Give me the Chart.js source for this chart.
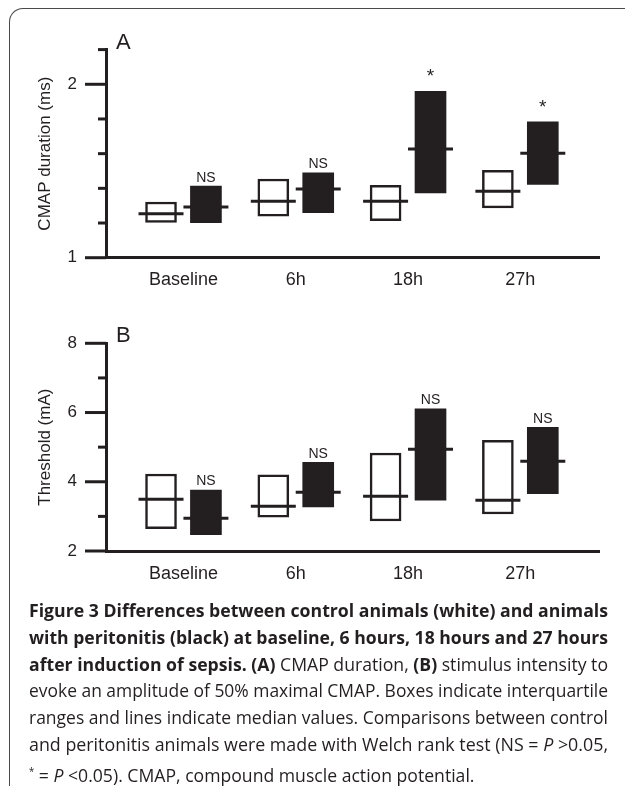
<!DOCTYPE html>
<html>
<head>
<meta charset="utf-8">
<script src="https://cdn.jsdelivr.net/npm/chart.js@4.4.1/dist/chart.umd.min.js"></script>
<style>
  html, body { margin: 0; padding: 0; background: #fff; overflow: hidden; }
  #page { width: 625px; height: 786px; position: relative; overflow: hidden; }
  #frame {
    position: absolute; left: 9px; top: 8px; width: 660px; height: 820px;
    border-left: 1.5px solid #4a4a4a; border-top: 1.5px solid #4a4a4a;
    border-top-left-radius: 14px;
  }
  .panel { position: absolute; left: 0; width: 625px; height: 300px; }
  #caption {
    position: absolute; left: 29px; top: 597px; width: 579px;
    font-family: "Open Sans", sans-serif; font-size: 18.5px; line-height: 26.8px;
    color: #231f20;
  }
  #caption div { white-space: nowrap; }
  #caption span.ln { display: inline-block; transform-origin: 0 0; }
</style>
</head>
<body>
<div id="page">
<div id="frame"></div>
<div class="panel" style="top:0"><canvas id="chartA"></canvas></div>
<div class="panel" style="top:300px"><canvas id="chartB"></canvas></div>
<div id="caption">
  <div><span class="ln"><b>Figure 3 Differences between control animals (white) and animals</b></span></div>
  <div><span class="ln"><b>with peritonitis (black) at baseline, 6 hours, 18 hours and 27 hours</b></span></div>
  <div><span class="ln"><b>after induction of sepsis. (A)</b> CMAP duration, <b>(B)</b> stimulus intensity to</span></div>
  <div><span class="ln">evoke an amplitude of 50% maximal CMAP. Boxes indicate interquartile</span></div>
  <div><span class="ln">ranges and lines indicate median values. Comparisons between control</span></div>
  <div><span class="ln">and peritonitis animals were made with Welch rank test (NS = <i>P</i> &gt;0.05,</span></div>
  <div><span class="ln" data-last="1"><sup style="font-size:10px">*</sup> = <i>P</i> &lt;0.05). CMAP, compound muscle action potential.</span></div>
</div>
</div>
<script>
const categories = ["Baseline", "6h", "18h", "27h"];

// A: CMAP duration (ms), boxes = interquartile range, lines = median
const cmapControlQ1 = [1.204, 1.240, 1.213, 1.287];
const cmapControlQ3 = [1.321, 1.454, 1.418, 1.504];
const cmapControlMedian = [1.254, 1.325, 1.325, 1.383];
const cmapSepsisQ1 = [1.202, 1.260, 1.373, 1.423];
const cmapSepsisQ3 = [1.413, 1.490, 1.960, 1.783];
const cmapSepsisMedian = [1.292, 1.396, 1.627, 1.602];
const cmapSignif = ["NS", "NS", "*", "*"];
const cmapLabelTicks = [1, 2];

// B: threshold (mA)
const thrControlQ1 = [2.645, 2.974, 2.867, 3.070];
const thrControlQ3 = [4.225, 4.197, 4.830, 5.200];
const thrControlMedian = [3.494, 3.290, 3.580, 3.465];
const thrSepsisQ1 = [2.470, 3.270, 3.465, 3.656];
const thrSepsisQ3 = [3.763, 4.563, 6.110, 5.575];
const thrSepsisMedian = [2.945, 3.700, 4.940, 4.590];
const thrSignif = ["NS", "NS", "NS", "NS"];
const thrLabelTicks = [2, 4, 6, 8];

const ink = "#231f20";
const font = "'Liberation Sans', Arial, sans-serif";
const shift = 0.2; // control left of category, peritonitis right

function boxes(q1, q3, dx) {
  return q1.map((lo, i) => ({ x: i + 1 + dx, y: [lo, q3[i]] }));
}
function medians(med, dx) {
  return med.map((m, i) => ({ x: i + 1 + dx, y: m }));
}

// draws y tick marks, panel letter and significance marks
function decor(letter, signif, sepsisQ3, tickLen) {
  return {
    id: "decor" + letter,
    afterDraw(chart) {
      const { ctx, chartArea, scales: { x, y } } = chart;
      ctx.save();
      ctx.strokeStyle = ink;
      ctx.lineWidth = 3;
      y.ticks.forEach(t => {
        const py = y.getPixelForValue(t.value);
        ctx.beginPath();
        ctx.moveTo(chartArea.left - tickLen(t.value), py);
        ctx.lineTo(chartArea.left, py);
        ctx.stroke();
      });
      ctx.fillStyle = ink;
      ctx.textBaseline = "alphabetic";
      ctx.textAlign = "left";
      ctx.font = "22px " + font;
      ctx.fillText(letter, chartArea.left + 10, chartArea.top - 1);
      ctx.textAlign = "center";
      signif.forEach((s, i) => {
        const px = x.getPixelForValue(i + 1 + shift);
        const py = y.getPixelForValue(sepsisQ3[i]);
        if (s === "*") {
          ctx.font = "19px " + font;
          ctx.fillText(s, px, py - 9);
        } else {
          ctx.font = "14px " + font;
          ctx.fillText(s, px, py - 4.5);
        }
      });
      ctx.restore();
    }
  };
}

function makeChart(id, cfg) {
  return new Chart(document.getElementById(id), {
    type: "bar",
    data: {
      datasets: [
        {
          label: "Control",
          data: boxes(cfg.cQ1, cfg.cQ3, -shift),
          backgroundColor: "#fff",
          borderColor: ink,
          borderWidth: 2.5,
          borderSkipped: false,
          barThickness: 31,
          grouped: false,
          order: 2
        },
        {
          label: "Peritonitis",
          data: boxes(cfg.sQ1, cfg.sQ3, shift),
          backgroundColor: ink,
          borderColor: ink,
          borderWidth: 0,
          barThickness: 31,
          grouped: false,
          order: 2
        },
        {
          type: "line",
          label: "Median",
          data: medians(cfg.cMed, -shift).concat(medians(cfg.sMed, shift)),
          showLine: false,
          pointStyle: "line",
          pointRadius: 22.5,
          pointHoverRadius: 22.5,
          borderColor: ink,
          borderWidth: 3,
          pointBorderWidth: 3,
          order: 0
        }
      ]
    },
    options: {
      responsive: false,
      animation: false,
      events: [],
      devicePixelRatio: 1,
      layout: { padding: { top: cfg.padTop, right: 18, left: 0, bottom: 0 } },
      plugins: { legend: { display: false }, tooltip: { enabled: false } },
      scales: {
        x: {
          type: "linear",
          offset: false,
          min: 0.31,
          max: 4.705,
          grid: { display: false, drawTicks: false },
          border: { display: true, color: ink, width: 3 },
          afterBuildTicks: s => { s.ticks = categories.map((c, i) => ({ value: i + 1 })); },
          afterFit: s => { s.height = cfg.xHeight; },
          ticks: {
            padding: 12,
            color: ink,
            font: { family: font, size: 18 },
            callback: v => categories[Math.round(v) - 1]
          }
        },
        y: {
          min: cfg.yMin,
          max: cfg.yMax,
          grid: { display: false, drawTicks: false },
          border: { display: true, color: ink, width: 3 },
          afterFit: s => { s.width = 106; },
          ticks: {
            stepSize: cfg.step,
            padding: 29,
            color: ink,
            font: { family: font, size: 17 },
            callback: v => cfg.labelTicks.some(t => Math.abs(t - v) < 1e-6) ? String(Math.round(v)) : ""
          },
          title: {
            display: true,
            text: cfg.title,
            color: ink,
            font: { family: font, size: 17 },
            padding: { top: 35, bottom: 0 }
          }
        }
      }
    },
    plugins: [decor(cfg.letter, cfg.signif, cfg.sQ3, cfg.tickLen)]
  });
}

function setSize(id) {
  const c = document.getElementById(id);
  c.width = 625; c.height = 300;
  c.style.width = "625px"; c.style.height = "300px";
}
setSize("chartA");
setSize("chartB");

makeChart("chartA", {
  letter: "A", title: "CMAP duration (ms)",
  cQ1: cmapControlQ1, cQ3: cmapControlQ3, cMed: cmapControlMedian,
  sQ1: cmapSepsisQ1, sQ3: cmapSepsisQ3, sMed: cmapSepsisMedian,
  signif: cmapSignif, labelTicks: cmapLabelTicks,
  yMin: 1, yMax: 2.2, step: 0.1, padTop: 49.6, xHeight: 42.3,
  tickLen: v => {
    if (cmapLabelTicks.some(t => Math.abs(t - v) < 1e-6)) return 21;
    if (Math.abs(v - 1.5) < 1e-6) return 14;
    return 8;
  }
});

makeChart("chartB", {
  letter: "B", title: "Threshold (mA)",
  cQ1: thrControlQ1, cQ3: thrControlQ3, cMed: thrControlMedian,
  sQ1: thrSepsisQ1, sQ3: thrSepsisQ3, sMed: thrSepsisMedian,
  signif: thrSignif, labelTicks: thrLabelTicks,
  yMin: 2, yMax: 8, step: 1, padTop: 43.3, xHeight: 49,
  tickLen: v => thrLabelTicks.some(t => Math.abs(t - v) < 1e-6) ? 21 : 8
});

// squeeze caption lines to the column width (the original face is narrower)
const lines = Array.from(document.querySelectorAll("#caption span.ln"));
const target = 579;
const full = lines.filter(l => !l.dataset.last);
const ratios = full.map(l => target / l.getBoundingClientRect().width);
const factor = ratios.reduce((a, b) => a + b, 0) / ratios.length;
lines.forEach((l, i) => {
  const k = l.dataset.last ? factor : ratios[i];
  l.style.transform = "scaleX(" + k + ")";
});
</script>
</body>
</html>
